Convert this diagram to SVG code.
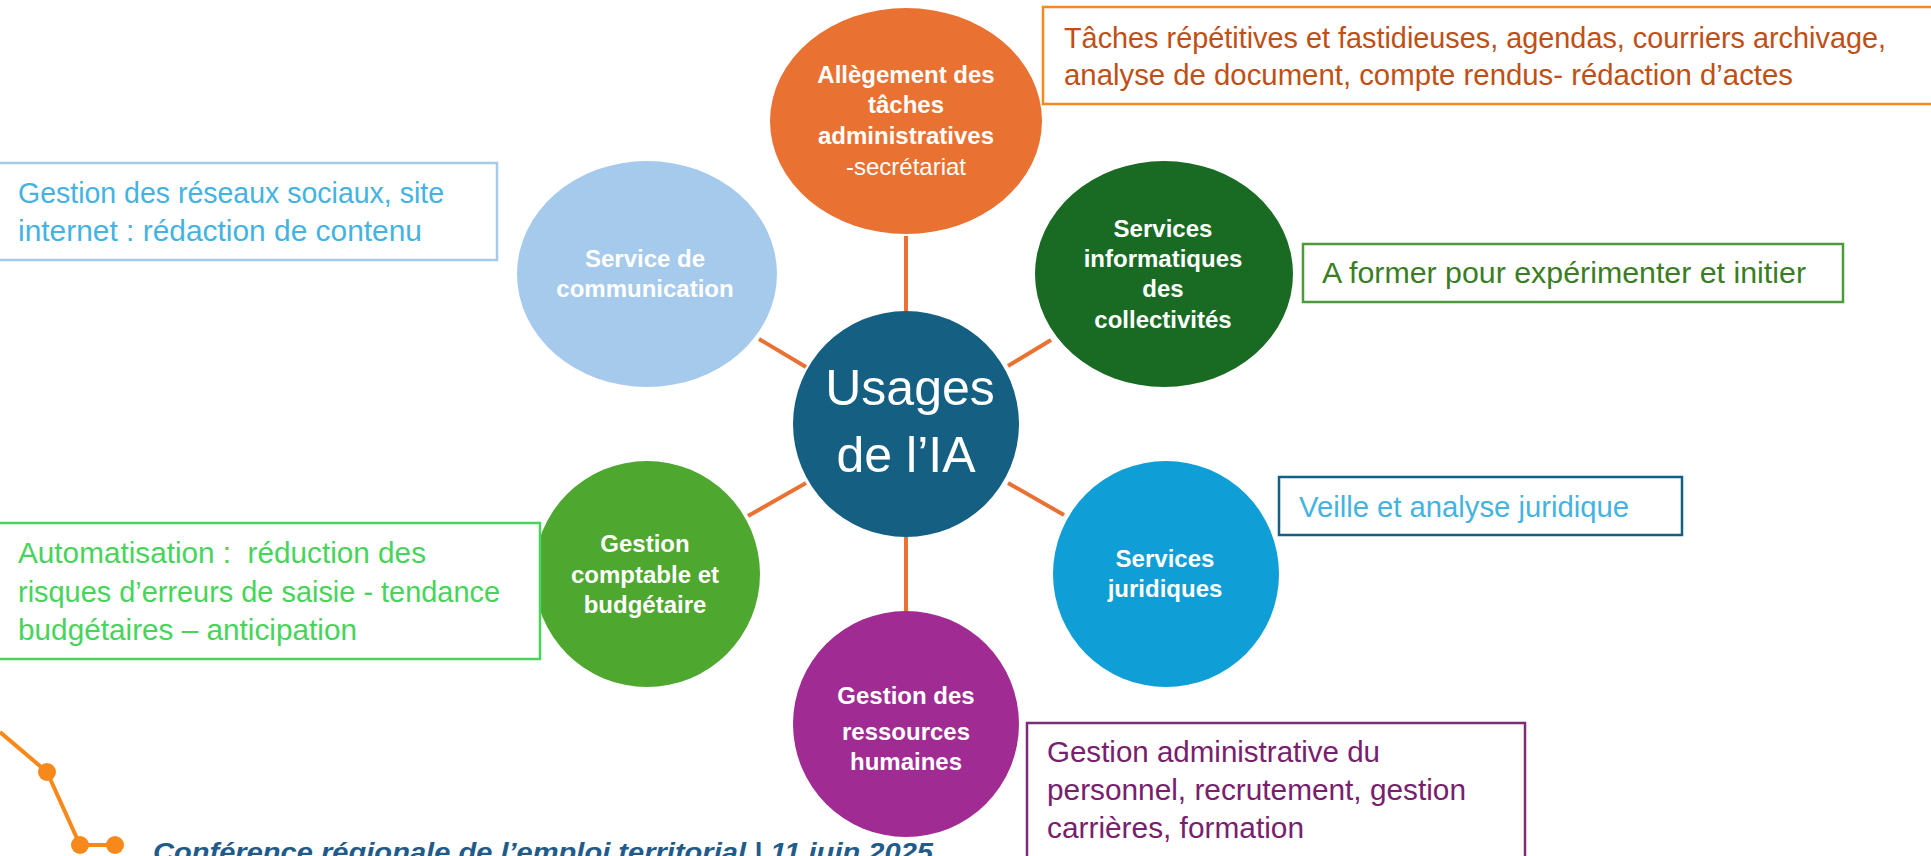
<svg xmlns="http://www.w3.org/2000/svg" width="1931" height="856" viewBox="0 0 1931 856">
  <style>
    .lbl { font-family: "Liberation Sans", Arial, sans-serif; font-size: 24px; font-weight: bold; fill: #FFFFFF; text-anchor: middle; }
    .lblr { font-family: "Liberation Sans", Arial, sans-serif; font-size: 24px; font-weight: normal; fill: #FFFFFF; text-anchor: middle; }
    .big { font-family: "Liberation Sans", Arial, sans-serif; font-size: 50px; fill: #FFFFFF; text-anchor: middle; }
    .box { fill: #FFFFFF; stroke-width: 2.5; }
    .bt { font-family: "Liberation Sans", Arial, sans-serif; font-size: 29px; white-space: pre; }
    .conn { stroke: #E97132; stroke-width: 4; fill: none; }
    .deco { stroke: #F7891B; stroke-width: 4; fill: none; }
    .dot { fill: #F7891B; }
    .foot { font-family: "Liberation Sans", Arial, sans-serif; font-size: 25px; font-weight: bold; font-style: italic; fill: #1F5C8B; }
  </style>
  <rect x="0" y="0" width="1931" height="856" fill="#FFFFFF"/>

  <g id="connectors">
    <line class="conn" x1="906" y1="236" x2="906" y2="311"/>
    <line class="conn" x1="906" y1="537" x2="906" y2="611"/>
    <line class="conn" x1="759" y1="339" x2="806" y2="367"/>
    <line class="conn" x1="1008" y1="366" x2="1051" y2="340"/>
    <line class="conn" x1="806" y1="483" x2="748" y2="516"/>
    <line class="conn" x1="1008" y1="483" x2="1064" y2="515"/>
  </g>

  <g id="node-center">
    <ellipse cx="906" cy="424" rx="113" ry="113" fill="#156082"/>
    <text class="big" x="910" y="405">Usages</text>
    <text class="big" x="906" y="472">de l’IA</text>
  </g>

  <g id="node-admin">
    <ellipse cx="906" cy="121" rx="136" ry="113" fill="#E97132"/>
    <text class="lbl" x="906" y="83">Allègement des</text>
    <text class="lbl" x="906" y="113">tâches</text>
    <text class="lbl" x="906" y="144">administratives</text>
    <text class="lblr" x="906" y="175">-secrétariat</text>
  </g>

  <g id="node-communication">
    <ellipse cx="647" cy="274" rx="130" ry="113" fill="#A6CAEC"/>
    <text class="lbl" x="645" y="267">Service de</text>
    <text class="lbl" x="645" y="297">communication</text>
  </g>

  <g id="node-informatique">
    <ellipse cx="1164" cy="274" rx="129" ry="113" fill="#196B24"/>
    <text class="lbl" x="1163" y="237">Services</text>
    <text class="lbl" x="1163" y="267">informatiques</text>
    <text class="lbl" x="1163" y="297">des</text>
    <text class="lbl" x="1163" y="328">collectivités</text>
  </g>

  <g id="node-comptable">
    <ellipse cx="647" cy="574" rx="113" ry="113" fill="#4EA72E"/>
    <text class="lbl" x="645" y="552">Gestion</text>
    <text class="lbl" x="645" y="583">comptable et</text>
    <text class="lbl" x="645" y="613">budgétaire</text>
  </g>

  <g id="node-juridique">
    <ellipse cx="1166" cy="574" rx="113" ry="113" fill="#0F9ED5"/>
    <text class="lbl" x="1165" y="567">Services</text>
    <text class="lbl" x="1165" y="597">juridiques</text>
  </g>

  <g id="node-rh">
    <ellipse cx="906" cy="724" rx="113" ry="113" fill="#A02B93"/>
    <text class="lbl" x="906" y="704">Gestion des</text>
    <text class="lbl" x="906" y="740">ressources</text>
    <text class="lbl" x="906" y="770">humaines</text>
  </g>

  <g id="box-admin">
    <rect class="box" x="1043" y="7" width="900" height="97" stroke="#F4891E"/>
    <text class="bt" fill="#C04F15" x="1064" y="48" textLength="822" lengthAdjust="spacingAndGlyphs">Tâches répétitives et fastidieuses, agendas, courriers archivage,</text>
    <text class="bt" fill="#C04F15" x="1064" y="85" textLength="729" lengthAdjust="spacingAndGlyphs">analyse de document, compte rendus- rédaction d’actes</text>
  </g>

  <g id="box-informatique">
    <rect class="box" x="1303" y="244" width="540" height="58" stroke="#4E9A3A"/>
    <text class="bt" fill="#3B7D23" x="1322" y="283" textLength="484" lengthAdjust="spacingAndGlyphs">A former pour expérimenter et initier</text>
  </g>

  <g id="box-communication">
    <rect class="box" x="-3" y="163" width="500" height="97" stroke="#A6CAEC"/>
    <text class="bt" fill="#44B3E1" x="18" y="203" textLength="426" lengthAdjust="spacingAndGlyphs">Gestion des réseaux sociaux, site</text>
    <text class="bt" fill="#44B3E1" x="18" y="241" textLength="404" lengthAdjust="spacingAndGlyphs">internet : rédaction de contenu</text>
  </g>

  <g id="box-comptable">
    <rect class="box" x="-3" y="523" width="543" height="136" stroke="#47D45A"/>
    <text class="bt" fill="#47D45A" x="18" y="563" textLength="408" lengthAdjust="spacingAndGlyphs">Automatisation :  réduction des</text>
    <text class="bt" fill="#47D45A" x="18" y="602" textLength="482" lengthAdjust="spacingAndGlyphs">risques d’erreurs de saisie - tendance</text>
    <text class="bt" fill="#47D45A" x="18" y="640" textLength="339" lengthAdjust="spacingAndGlyphs">budgétaires – anticipation</text>
  </g>

  <g id="box-juridique">
    <rect class="box" x="1279" y="477" width="403" height="58" stroke="#156082"/>
    <text class="bt" fill="#44B3E1" x="1299" y="517" textLength="330" lengthAdjust="spacingAndGlyphs">Veille et analyse juridique</text>
  </g>

  <g id="box-rh">
    <rect class="box" x="1027" y="723" width="498" height="150" stroke="#7B2C7B"/>
    <text class="bt" fill="#78206E" x="1047" y="762" textLength="333" lengthAdjust="spacingAndGlyphs">Gestion administrative du</text>
    <text class="bt" fill="#78206E" x="1047" y="800" textLength="419" lengthAdjust="spacingAndGlyphs">personnel, recrutement, gestion</text>
    <text class="bt" fill="#78206E" x="1047" y="838" textLength="257" lengthAdjust="spacingAndGlyphs">carrières, formation</text>
  </g>

  <g id="footer">
    <polyline class="deco" points="0,732 47,772 80,845 115,845"/>
    <circle class="dot" cx="47" cy="772" r="9"/>
    <circle class="dot" cx="80" cy="845" r="9"/>
    <circle class="dot" cx="115" cy="845" r="9"/>
    <text class="foot" x="153" y="861" textLength="780" lengthAdjust="spacingAndGlyphs">Conférence régionale de l’emploi territorial | 11 juin 2025</text>
  </g>
</svg>
